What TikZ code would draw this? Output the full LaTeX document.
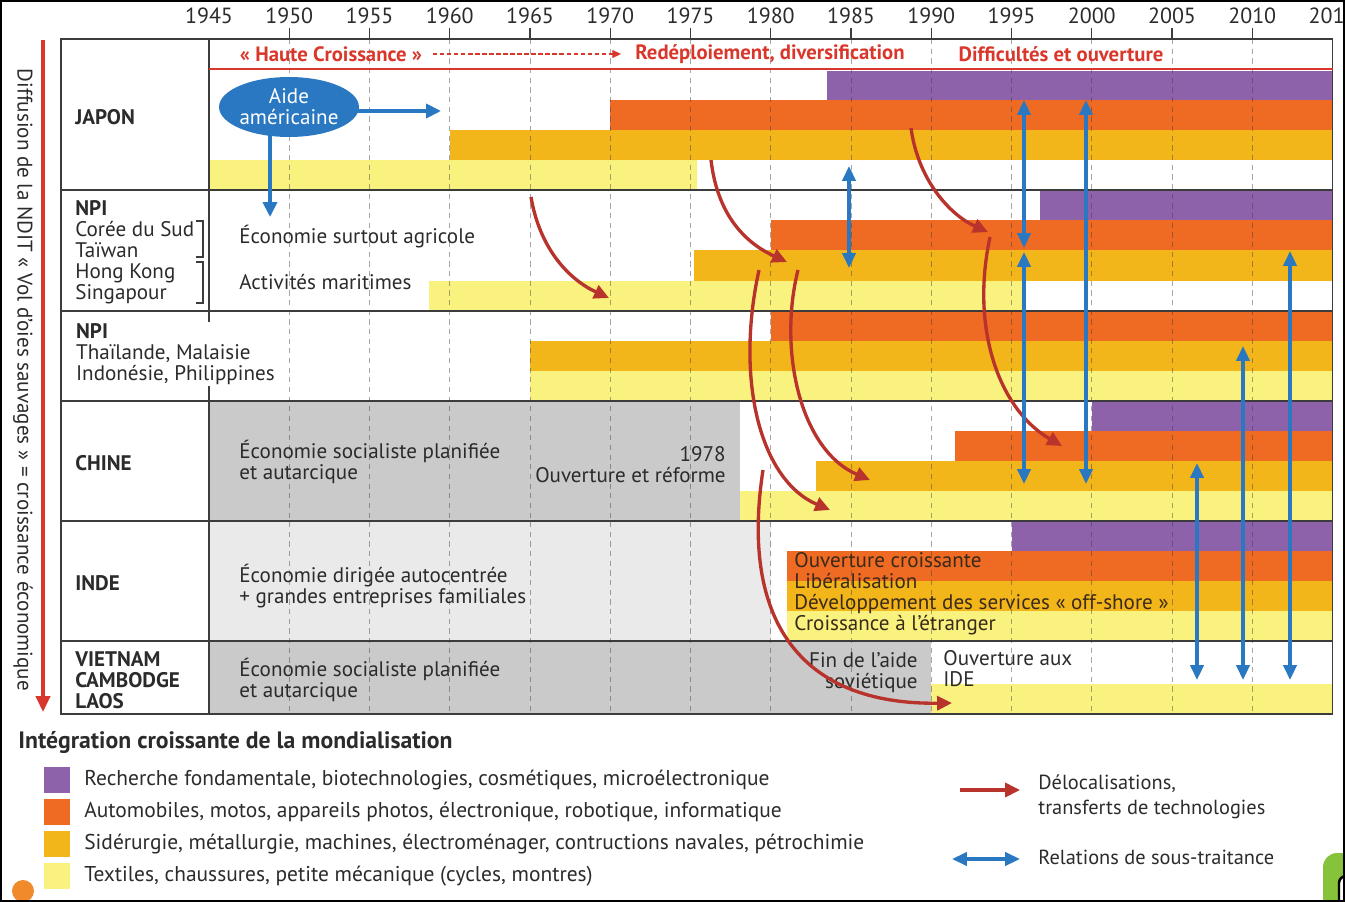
\documentclass[tikz,border=0pt]{standalone}
\usepackage{fontspec}
\setmainfont{PT Sans}
\usetikzlibrary{arrows.meta,shapes.geometric}
\definecolor{vio}{HTML}{8E62AA}
\definecolor{ora}{HTML}{EF6A22}
\definecolor{gold}{HTML}{F3B61A}
\definecolor{pale}{HTML}{F9F27E}
\definecolor{redline}{HTML}{D9372B}
\definecolor{redarrow}{HTML}{B8332C}
\definecolor{blu}{HTML}{2B78C2}
\definecolor{ink}{HTML}{2B2B2B}
\definecolor{brownink}{HTML}{3A2A1A}
\definecolor{greydark}{HTML}{CACACA}
\definecolor{greylight}{HTML}{EAEAEA}
\definecolor{rule}{HTML}{3C3C3C}
\definecolor{dot}{HTML}{F08A2A}
\definecolor{leaf}{HTML}{86C23A}
% year -> x (pixels)
\newcommand{\yr}[1]{{209+16.05*(#1-1945)}}

\begin{document}
\begin{tikzpicture}[x=0.02cm, y=-0.02cm, line cap=butt,
  rule/.style={draw=rule, line width=0.9pt},
  gridline/.style={draw=rule, line width=0.5pt, dash pattern=on 3pt off 2.5pt, opacity=0.45},
  body/.style={font=\fontsize{12}{11.9}\selectfont, text=ink, anchor=west, align=left, inner sep=0pt},
  country/.style={body, font=\fontsize{12}{11.9}\selectfont\bfseries},
  headred/.style={font=\fontsize{11.8}{12}\selectfont\bfseries, text=redline, inner sep=0pt},
  yearlab/.style={font=\fontsize{12.5}{13}\selectfont, text=ink, inner sep=0pt},
  legtxt/.style={font=\fontsize{12.2}{14.2}\selectfont, text=ink, anchor=west, align=left, inner sep=0pt},
  redarr/.style={draw=redarrow, line width=1.9pt, -{Triangle[length=8.5pt, width=8pt]}},
  bluarr/.style={draw=blu, line width=2pt, {Triangle[length=8.5pt, width=7.5pt]}-{Triangle[length=8.5pt, width=7.5pt]}}]

\useasboundingbox (0,0) rectangle (1345,902);
\clip (0,0) rectangle (1345,902);

% ---------------- row backgrounds ----------------
\fill[greydark] (\yr{1945},401) rectangle (\yr{1978.1},521);
\fill[greylight] (\yr{1945},521) rectangle (\yr{1980},641);
\fill[greydark] (\yr{1945},641) rectangle (\yr{1990},714);

% ---------------- bars: colour / from / to / top / bottom ----------------
\foreach \c/\a/\b/\t/\u in {vio/1983.5/2015/71/100, ora/1970/2015/100/130, gold/1960/2015/130/160, pale/1945/1975.4/160/190,
                            vio/1996.8/2015/190/220, ora/1980/2015/220/250, gold/1975.2/2015/250/281, pale/1958.7/1995.7/281/311,
                            ora/1980/2015/311/341, gold/1965/2015/341/371, pale/1965/2015/371/401,
                            vio/2000/2015/401/431, ora/1991.5/2015/431/461, gold/1982.8/2015/461/491, pale/1978.1/2015/491/521,
                            vio/1995/2015/521/551, ora/1981/2015/551/581, gold/1981/2015/581/611, pale/1981/2015/611/641,
                            pale/1990/2015/684/714}
  \fill[\c] (\yr{\a},\t) rectangle (\yr{\b},\u);

% ---------------- time axis ----------------
\foreach \y in {1950,1955,...,2010}{
  \draw[gridline] (\yr{\y},39) -- (\yr{\y},714);
  \draw[rule, line width=0.6pt] (\yr{\y},28) -- (\yr{\y},39);
}
\foreach \y in {1945,1950,...,2015}
  \node[yearlab] (yr\y) at (\yr{\y},16) {\y};

% ---------------- table frame ----------------
\draw[rule] (61,39) rectangle (\yr{2015},714);
\foreach \y in {190,311,401,521,641}
  \draw[rule] (61,\y) -- (\yr{2015},\y);
\draw[rule] (209,39) -- (209,714);
\draw[redline, line width=1.6pt] (209,69) -- (\yr{2015},69);

% ---------------- header phases ----------------
\node[headred] (hc) at (331,54) {«~Haute Croissance~»};
\node[headred] (rd) at (770,54) {Redéploiement, diversification};
\node[headred] (dif) at (1061,54) {Difficultés et ouverture};
\draw[redline, line width=0.8pt, dash pattern=on 2.5pt off 1.5pt, -{Triangle[length=5pt, width=4.5pt]},
      shorten <=6pt, shorten >=8pt] (hc.east) -- (rd.west);

% ---------------- row labels ----------------
\node[country] (jap) at (75,117) {JAPON};
\node[body] (npia) at (75,252) {\textbf{NPI}\\Corée du Sud\\Taïwan\\Hong Kong\\Singapour};
\draw[rule, line width=0.6pt] (196,221) -- (203,221) -- (203,257) -- (196,257);
\draw[rule, line width=0.6pt] (196,262) -- (203,262) -- (203,303) -- (196,303);
\node[body, fill=white, inner sep=1pt] (npib) at (74,354) {\textbf{NPI}\\Thaïlande, Malaisie\\Indonésie, Philippines};
\node[country] (chn) at (75,463) {CHINE};
\node[country] (ind) at (75,583) {INDE};
\node[country] (vcl) at (75,680) {VIETNAM\\CAMBODGE\\LAOS};

% ---------------- texts in the rows ----------------
\node[body] (agri) at (239,237) {Économie surtout agricole};
\node[body] (mari) at (239,282) {Activités maritimes};
\node[body] (chsoc) at (239,462) {Économie socialiste planifiée\\et autarcique};
\node[body, anchor=east, align=right] (ch78) at (726,465) {1978\\Ouverture et réforme};
\node[body] (indeco) at (239,586) {Économie dirigée autocentrée\\+ grandes entreprises familiales};
\node[body, text=brownink] (indbar) at (794,594) {Ouverture croissante\\Libéralisation\\Développement des services «~off-shore~»\\Croissance à l’étranger};
\node[body] (vnsoc) at (239,680) {Économie socialiste planifiée\\et autarcique};
\node[body, anchor=east, align=right] (finaide) at (918,673) {Fin de l’aide\\soviétique};
\node[body] (ide) at (943,669) {Ouverture aux\\IDE};

% ---------------- aide americaine ----------------
\coordinate (aideR) at (441,111);
\coordinate (aideD) at (270,217);
\draw[draw=blu, line width=2pt, -{Triangle[length=8.5pt, width=8pt]}] (330,111) -- (aideR);
\draw[draw=blu, line width=2pt, -{Triangle[length=8.5pt, width=8pt]}] (270,120) -- (aideD);
\node[ellipse, fill=blu, minimum width=2.76cm, minimum height=1.2cm, inner sep=0pt, text=white,
      font=\fontsize{12}{11.9}\selectfont, align=center] (aide) at (289,107) {Aide\\américaine};

% ---------------- delocalisations (red) ----------------
\foreach \sx/\sy/\ax/\ay/\bx/\by/\ex/\ey in {531/197/540/250/570/280/609/298,
                                             711/160/718/220/750/245/787/262,
                                             911/128/918/180/950/215/988/232,
                                             990/237/970/330/1000/410/1062/446,
                                             798/270/778/350/800/450/870/480,
                                             759/270/735/380/760/480/830/510,
                                             763/470/740/620/800/705/952/703}
  \draw[redarr] (\sx,\sy) .. controls (\ax,\ay) and (\bx,\by) .. (\ex,\ey);

% ---------------- sous-traitance (blue) ----------------
\foreach \x/\a/\b in {849/166/268, 1024/100/248, 1024/252/484, 1086/100/484, 1197/463/680, 1243/346/680, 1290/251/680}
  \draw[bluarr] (\x,\a) -- (\x,\b);

% ---------------- left axis ----------------
\node[font=\fontsize{12}{12}\selectfont, text=ink, rotate=-90, inner sep=0pt] (ndit) at (23,380)
  {Diffusion de la NDIT «~Vol d’oies sauvages~» = croissance économique};
\coordinate (axT) at (43,40);
\coordinate (axB) at (43,712);
\draw[draw=redline, line width=1.9pt, -{Triangle[length=9pt, width=8pt]}] (axT) -- (axB);

% ================= legend =================
\node[legtxt, font=\fontsize{13.5}{14}\selectfont\bfseries] (legt) at (18,742) {Intégration croissante de la mondialisation};
\foreach \c/\y/\txt [count=\i] in {vio/780/{Recherche fondamentale, biotechnologies, cosmétiques, microélectronique},
                                  ora/812/{Automobiles, motos, appareils photos, électronique, robotique, informatique},
                                  gold/844/{Sidérurgie, métallurgie, machines, électroménager, contructions navales, pétrochimie},
                                  pale/876/{Textiles, chaussures, petite mécanique (cycles, montres)}}{
  \fill[\c] (44,\y-13) rectangle (70,\y+13);
  \node[legtxt] (leg\i) at (84,\y) {\txt};
}
\coordinate (kr1) at (960,790);
\coordinate (kr2) at (1020,790);
\draw[redarr] (kr1) -- (kr2);
\node[legtxt, font=\fontsize{11.6}{14.2}\selectfont] (kdel) at (1038,797) {Délocalisations,\\transferts de technologies};
\coordinate (kb1) at (952,859);
\coordinate (kb2) at (1020,859);
\draw[bluarr] (kb1) -- (kb2);
\node[legtxt, font=\fontsize{11.6}{14.2}\selectfont] (krel) at (1038,857) {Relations de sous-traitance};

% page edge bits
\fill[dot] (23,891) circle (11);
\fill[leaf, rounded corners=8pt] (1323,853) rectangle (1370,915);
\filldraw[fill=white, draw=black, line width=1.4pt, rounded corners=4pt] (1339,876) rectangle (1370,915);
\draw[black, line width=2.4pt] (0,0) rectangle (1345,902);

\end{tikzpicture}
\end{document}
